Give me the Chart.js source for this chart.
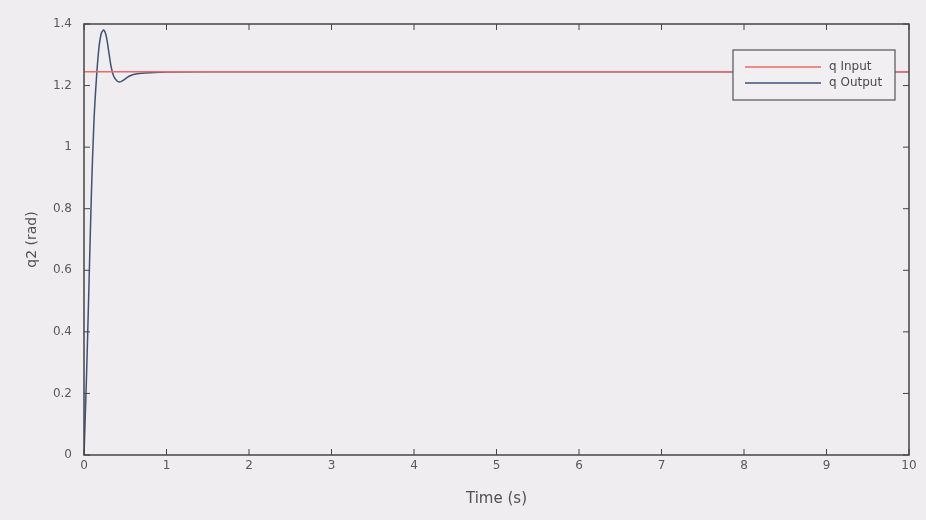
<!DOCTYPE html>
<html>
<head>
<meta charset="utf-8">
<script src="https://cdn.jsdelivr.net/npm/chart.js@4.4.1/dist/chart.umd.min.js"></script>
<style>
  html, body { margin: 0; padding: 0; background: #efedf0; }
  #wrap { width: 926px; height: 520px; }
</style>
</head>
<body>
<div id="wrap"><canvas id="c" width="926" height="520"></canvas></div>
<script>
// step response of joint q2
const inputTimes = [0, 10];
const inputValues = [1.245, 1.245];

const outputTimes = [0, 0.03, 0.06, 0.09, 0.12, 0.15, 0.18, 0.21, 0.24, 0.27, 0.3, 0.33, 0.36, 0.4, 0.44, 0.48, 0.52, 0.56, 0.6, 0.7, 0.8, 1, 2, 4, 6, 8, 10];
const outputValues = [0, 0.25, 0.55, 0.85, 1.08, 1.22, 1.32, 1.37, 1.38, 1.36, 1.31, 1.26, 1.23, 1.215, 1.212, 1.218, 1.226, 1.232, 1.236, 1.24, 1.242, 1.244, 1.245, 1.245, 1.245, 1.245, 1.245];

const xTicks = [0, 1, 2, 3, 4, 5, 6, 7, 8, 9, 10];
const yTicks = [0, 0.2, 0.4, 0.6, 0.8, 1, 1.2, 1.4];
const seriesNames = ['q Input', 'q Output'];

const axisColor = '#454545';
const textColor = '#5a5a5a';
const inputColor = '#e86a6a';
const outputColor = '#3f5275';

function toPoints(xs, ys) {
    return xs.map((x, i) => ({ x: x, y: ys[i] }));
}

// MATLAB-like box with inward ticks on all sides
const boxPlugin = {
    id: 'box',
    afterDatasetsDraw(chart) {
        const { ctx, chartArea: a, scales } = chart;
        ctx.save();
        ctx.strokeStyle = axisColor;
        ctx.lineWidth = 1.5;
        ctx.strokeRect(a.left, a.top, a.right - a.left, a.bottom - a.top);
        ctx.lineWidth = 1;
        const len = 6;
        xTicks.forEach(v => {
            const x = scales.x.getPixelForValue(v);
            ctx.beginPath();
            ctx.moveTo(x, a.bottom); ctx.lineTo(x, a.bottom - len);
            ctx.moveTo(x, a.top); ctx.lineTo(x, a.top + len);
            ctx.stroke();
        });
        yTicks.forEach(v => {
            const y = scales.y.getPixelForValue(v);
            ctx.beginPath();
            ctx.moveTo(a.left, y); ctx.lineTo(a.left + len, y);
            ctx.moveTo(a.right, y); ctx.lineTo(a.right - len, y);
            ctx.stroke();
        });

        // legend box in the upper right corner
        const bx = 733, by = 50, bw = 162, bh = 50;
        ctx.fillStyle = '#f1eff2';
        ctx.fillRect(bx, by, bw, bh);
        ctx.strokeStyle = '#555';
        ctx.lineWidth = 1.2;
        ctx.strokeRect(bx, by, bw, bh);
        const colors = [inputColor, outputColor];
        ctx.font = '12px "DejaVu Sans", sans-serif';
        ctx.textBaseline = 'middle';
        seriesNames.forEach((name, i) => {
            const y = by + 17 + i * 16;
            ctx.strokeStyle = colors[i];
            ctx.lineWidth = 1.5;
            ctx.beginPath();
            ctx.moveTo(bx + 12, y); ctx.lineTo(bx + 88, y);
            ctx.stroke();
            ctx.fillStyle = '#4a4a4a';
            ctx.fillText(name, bx + 96, y);
        });
        ctx.restore();
    }
};

new Chart(document.getElementById('c'), {
    type: 'line',
    data: {
        datasets: [
            {
                label: seriesNames[0],
                data: toPoints(inputTimes, inputValues),
                borderColor: inputColor,
                borderWidth: 1.5,
                pointRadius: 0,
                tension: 0
            },
            {
                label: seriesNames[1],
                data: toPoints(outputTimes, outputValues),
                borderColor: outputColor,
                borderWidth: 1.5,
                pointRadius: 0,
                tension: 0.3
            }
        ]
    },
    options: {
        responsive: false,
        animation: false,
        layout: { padding: { left: 0, right: 17, top: 24, bottom: 0 } },
        plugins: {
            legend: { display: false },
            tooltip: { enabled: false }
        },
        scales: {
            x: {
                type: 'linear',
                min: 0,
                max: 10,
                afterBuildTicks: s => { s.ticks = xTicks.map(v => ({ value: v })); },
                afterFit: s => { s.height = 65; },
                grid: { display: false, drawTicks: false },
                border: { display: false },
                ticks: {
                    color: textColor,
                    padding: 4,
                    callback: v => String(v),
                    font: { family: '"DejaVu Sans", sans-serif', size: 12 }
                },
                title: {
                    display: true,
                    text: 'Time (s)',
                    color: '#505050',
                    padding: { top: 0, bottom: 12 },
                    font: { family: '"DejaVu Sans", sans-serif', size: 15 }
                }
            },
            y: {
                min: 0,
                max: 1.4,
                afterBuildTicks: s => { s.ticks = yTicks.map(v => ({ value: v })); },
                afterFit: s => { s.width = 84; },
                grid: { display: false, drawTicks: false },
                border: { display: false },
                ticks: {
                    color: textColor,
                    padding: 12,
                    callback: v => String(v),
                    font: { family: '"DejaVu Sans", sans-serif', size: 12 }
                },
                title: {
                    display: true,
                    text: 'q2 (rad)',
                    color: '#505050',
                    padding: { top: 24, bottom: 0 },
                    font: { family: '"DejaVu Sans", sans-serif', size: 14 }
                }
            }
        }
    },
    plugins: [boxPlugin]
});
</script>
</body>
</html>
